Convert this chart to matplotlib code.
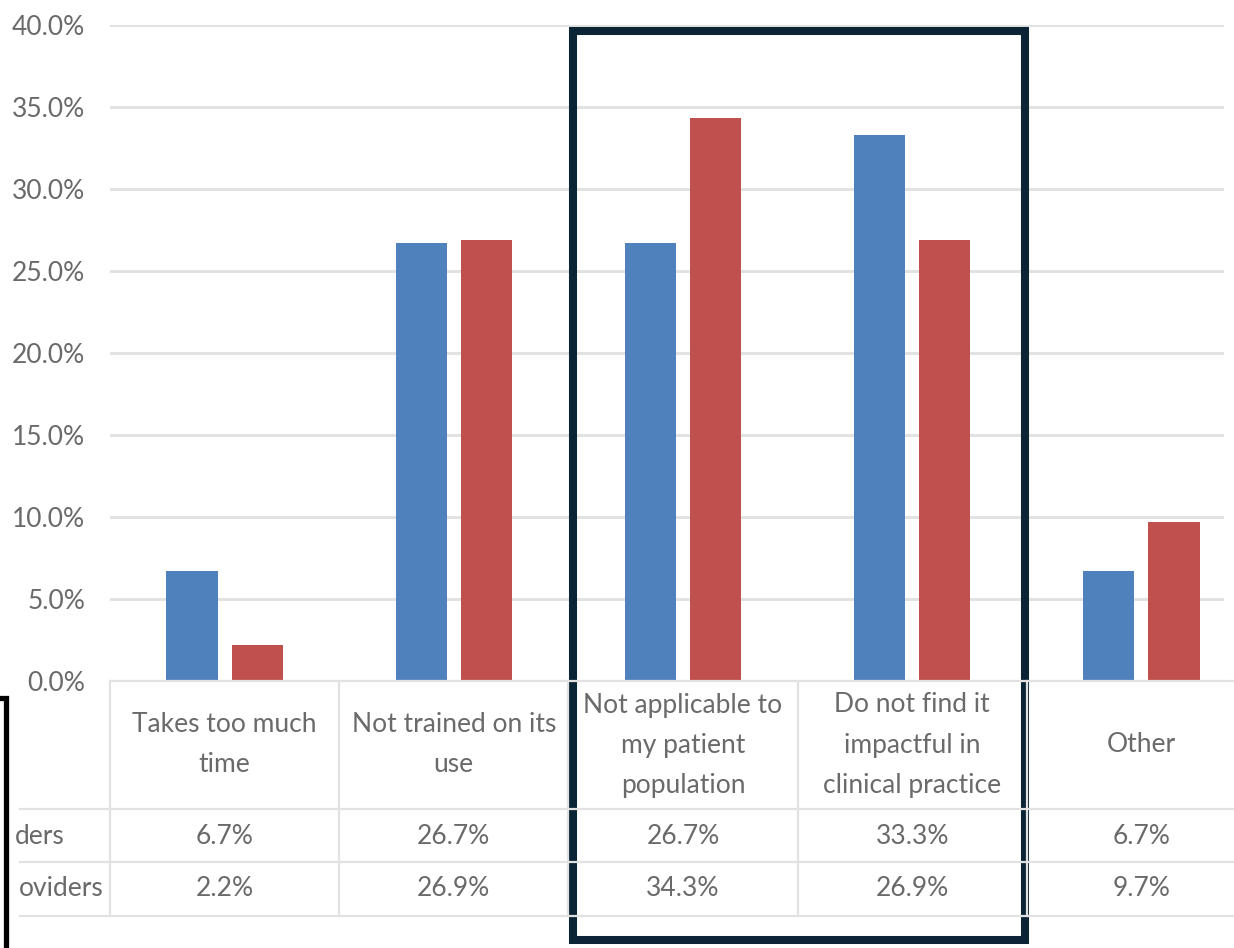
import numpy as np
import matplotlib.pyplot as plt
from matplotlib.patches import Rectangle

plt.rcParams['font.family'] = ['Lato', 'DejaVu Sans']

categories = ["Takes too much\ntime", "Not trained on its\nuse",
              "Not applicable to\nmy patient\npopulation",
              "Do not find it\nimpactful in\nclinical practice", "Other"]
series_a = [6.7, 26.7, 26.7, 33.3, 6.7]
series_b = [2.2, 26.9, 34.3, 26.9, 9.7]
row_labels = ["ders", "oviders"]   # only the visible ends, the source is cropped
yticks = [0, 5, 10, 15, 20, 25, 30, 35, 40]

blue = '#4F81BD'
red = '#C0504D'
txt = '#6a6a6a'
grid = '#e2e2e2'

W, H = 1234, 948
fig = plt.figure(figsize=(W / 100, H / 100), dpi=100)

# plot area in pixels
x_left, x_right = 110, 1224
y_top, y_bot = 25, 681
col_w = 229.2

ax = fig.add_axes([x_left / W, 1 - y_bot / H, (x_right - x_left) / W, (y_bot - y_top) / H])
x = np.arange(len(categories))
ax.bar(x - 0.142, series_a, 0.223, color=blue, zorder=3)
ax.bar(x + 0.142, series_b, 0.223, color=red, zorder=3)
ax.set_xlim(-0.5, -0.5 + (x_right - x_left) / col_w)
ax.set_ylim(0, 40)
ax.set_yticks(yticks)
ax.set_yticklabels([f"{v:.1f}%" for v in yticks], fontsize=19, color=txt)
ax.set_xticks([])
ax.tick_params(axis='y', length=0, pad=18)
ax.yaxis.grid(True, color=grid, lw=2.2, zorder=0)
for s in ax.spines.values():
    s.set_visible(False)

# data table underneath, drawn in pixel space
tab = fig.add_axes([0, 0, 1, 1], facecolor='none')
tab.set_xlim(0, W)
tab.set_ylim(H, 0)
tab.axis('off')

row_y = [809, 862, 916]
tab.plot([x_left, W], [y_bot, y_bot], color=grid, lw=1.6)
for y in row_y:
    tab.plot([20, W], [y, y], color=grid, lw=1.6)
for k in range(len(categories)):
    xv = x_left + k * col_w
    tab.plot([xv, xv], [y_bot, row_y[-1]], color=grid, lw=1.6)

for i, cat in enumerate(categories):
    cx = x_left + (i + 0.5) * col_w
    tab.text(cx, 745, cat, ha='center', va='center', fontsize=19, color=txt, linespacing=1.75)
    tab.text(cx, 836, f"{series_a[i]:.1f}%", ha='center', va='center', fontsize=19, color=txt)
    tab.text(cx, 889, f"{series_b[i]:.1f}%", ha='center', va='center', fontsize=19, color=txt)

tab.text(65, 836, row_labels[0], ha='right', va='center', fontsize=19, color=txt)
tab.text(104, 889, row_labels[1], ha='right', va='center', fontsize=19, color=txt)

# highlight frame and the edge of another frame at the left
tab.add_patch(Rectangle((573, 31), 1025 - 573, 940 - 31, fill=False,
                        edgecolor='#0b2537', lw=5.8))
tab.add_patch(Rectangle((-50, 698), 56, 300, fill=False, edgecolor='black', lw=3.8))

fig.savefig('out.png', dpi=100)
